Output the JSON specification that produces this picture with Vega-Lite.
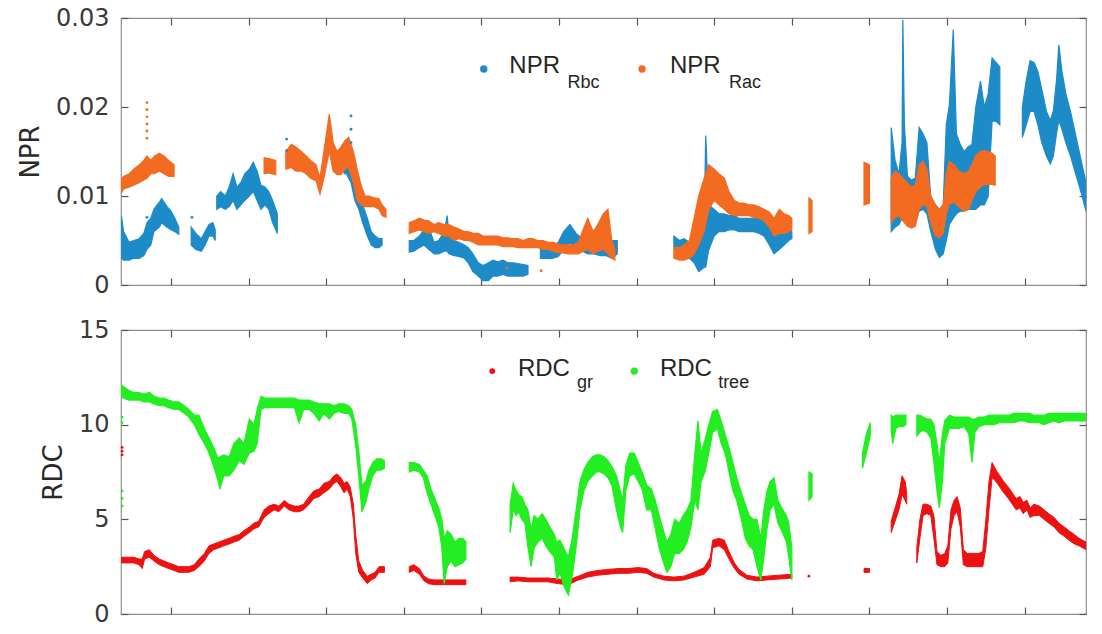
{
  "$schema": "https://vega.github.io/schema/vega-lite/v6.json",
  "background": "white",
  "padding": {"left": 16, "top": 5, "right": 15, "bottom": 5},
  "spacing": 19,
  "config": {
    "view": {"stroke": "#8f8f8f", "strokeWidth": 1.2},
    "axis": {
      "grid": false, "domain": false, "ticks": true, "tickSize": -7, "tickColor": "#555555", "tickWidth": 1.2,
      "labelFont": "DejaVu Sans", "labelFontSize": 24, "labelColor": "#3a3a3a", "labelPadding": 19,
      "titleFont": "DejaVu Sans", "titleFontSize": 26, "titleFontWeight": "normal", "titleColor": "#2a2a2a", "titlePadding": 12
    }
  },
  "datasets": {
    "npr": [
      {"s":"Rbc","g":"b1","t":0.36,"lo":0.0030,"hi":0.0078},
      {"s":"Rbc","g":"b1","t":0.39,"lo":0.0028,"hi":0.0060},
      {"s":"Rbc","g":"b1","t":0.46,"lo":0.0028,"hi":0.0048},
      {"s":"Rbc","g":"b1","t":0.52,"lo":0.0030,"hi":0.0050},
      {"s":"Rbc","g":"b1","t":0.59,"lo":0.0030,"hi":0.0052},
      {"s":"Rbc","g":"b1","t":0.65,"lo":0.0033,"hi":0.0058},
      {"s":"Rbc","g":"b1","t":0.69,"lo":0.0040,"hi":0.0070},
      {"s":"Rbc","g":"b1","t":0.74,"lo":0.0045,"hi":0.0075},
      {"s":"Rbc","g":"b1","t":0.78,"lo":0.0060,"hi":0.0085},
      {"s":"Rbc","g":"b1","t":0.85,"lo":0.0065,"hi":0.0093},
      {"s":"Rbc","g":"b1","t":0.88,"lo":0.0070,"hi":0.0097},
      {"s":"Rbc","g":"b1","t":0.95,"lo":0.0065,"hi":0.0088},
      {"s":"Rbc","g":"b1","t":1.00,"lo":0.0062,"hi":0.0083},
      {"s":"Rbc","g":"b1","t":1.05,"lo":0.0060,"hi":0.0075},
      {"s":"Rbc","g":"b1","t":1.10,"lo":0.0057,"hi":0.0065},
      {"s":"Rbc","g":"b2","t":1.26,"lo":0.0045,"hi":0.0065},
      {"s":"Rbc","g":"b2","t":1.32,"lo":0.0040,"hi":0.0058},
      {"s":"Rbc","g":"b2","t":1.39,"lo":0.0038,"hi":0.0052},
      {"s":"Rbc","g":"b2","t":1.44,"lo":0.0045,"hi":0.0060},
      {"s":"Rbc","g":"b2","t":1.49,"lo":0.0055,"hi":0.0068},
      {"s":"Rbc","g":"b2","t":1.54,"lo":0.0055,"hi":0.0070},
      {"s":"Rbc","g":"b2","t":1.57,"lo":0.0050,"hi":0.0062},
      {"s":"Rbc","g":"b3","t":1.59,"lo":0.0085,"hi":0.0100},
      {"s":"Rbc","g":"b3","t":1.64,"lo":0.0088,"hi":0.0105},
      {"s":"Rbc","g":"b3","t":1.70,"lo":0.0085,"hi":0.0100},
      {"s":"Rbc","g":"b3","t":1.75,"lo":0.0088,"hi":0.0110},
      {"s":"Rbc","g":"b3","t":1.80,"lo":0.0095,"hi":0.0125},
      {"s":"Rbc","g":"b3","t":1.85,"lo":0.0085,"hi":0.0110},
      {"s":"Rbc","g":"b3","t":1.90,"lo":0.0090,"hi":0.0115},
      {"s":"Rbc","g":"b3","t":1.95,"lo":0.0095,"hi":0.0125},
      {"s":"Rbc","g":"b3","t":2.01,"lo":0.0100,"hi":0.0130},
      {"s":"Rbc","g":"b3","t":2.06,"lo":0.0105,"hi":0.0138},
      {"s":"Rbc","g":"b3","t":2.11,"lo":0.0095,"hi":0.0128},
      {"s":"Rbc","g":"b3","t":2.16,"lo":0.0085,"hi":0.0112},
      {"s":"Rbc","g":"b3","t":2.21,"lo":0.0090,"hi":0.0110},
      {"s":"Rbc","g":"b3","t":2.26,"lo":0.0085,"hi":0.0105},
      {"s":"Rbc","g":"b3","t":2.31,"lo":0.0070,"hi":0.0095},
      {"s":"Rbc","g":"b3","t":2.37,"lo":0.0058,"hi":0.0080},
      {"s":"Rbc","g":"b4","t":3.23,"lo":0.0125,"hi":0.0147},
      {"s":"Rbc","g":"b4","t":3.26,"lo":0.0125,"hi":0.0145},
      {"s":"Rbc","g":"b4","t":3.32,"lo":0.0115,"hi":0.0140},
      {"s":"Rbc","g":"b4","t":3.37,"lo":0.0095,"hi":0.0130},
      {"s":"Rbc","g":"b4","t":3.42,"lo":0.0085,"hi":0.0110},
      {"s":"Rbc","g":"b4","t":3.47,"lo":0.0070,"hi":0.0090},
      {"s":"Rbc","g":"b4","t":3.53,"lo":0.0055,"hi":0.0075},
      {"s":"Rbc","g":"b4","t":3.58,"lo":0.0045,"hi":0.0060},
      {"s":"Rbc","g":"b4","t":3.63,"lo":0.0042,"hi":0.0055},
      {"s":"Rbc","g":"b4","t":3.68,"lo":0.0042,"hi":0.0052},
      {"s":"Rbc","g":"b4","t":3.72,"lo":0.0045,"hi":0.0052},
      {"s":"Rbc","g":"b5","t":4.07,"lo":0.0037,"hi":0.0050},
      {"s":"Rbc","g":"b5","t":4.13,"lo":0.0038,"hi":0.0050},
      {"s":"Rbc","g":"b5","t":4.20,"lo":0.0042,"hi":0.0055},
      {"s":"Rbc","g":"b5","t":4.26,"lo":0.0045,"hi":0.0062},
      {"s":"Rbc","g":"b5","t":4.32,"lo":0.0040,"hi":0.0065},
      {"s":"Rbc","g":"b5","t":4.39,"lo":0.0035,"hi":0.0048},
      {"s":"Rbc","g":"b5","t":4.45,"lo":0.0035,"hi":0.0050},
      {"s":"Rbc","g":"b5","t":4.52,"lo":0.0038,"hi":0.0060},
      {"s":"Rbc","g":"b5","t":4.56,"lo":0.0038,"hi":0.0078},
      {"s":"Rbc","g":"b5","t":4.58,"lo":0.0035,"hi":0.0055},
      {"s":"Rbc","g":"b5","t":4.65,"lo":0.0033,"hi":0.0050},
      {"s":"Rbc","g":"b5","t":4.71,"lo":0.0032,"hi":0.0048},
      {"s":"Rbc","g":"b5","t":4.78,"lo":0.0030,"hi":0.0045},
      {"s":"Rbc","g":"b5","t":4.83,"lo":0.0025,"hi":0.0042},
      {"s":"Rbc","g":"b5","t":4.89,"lo":0.0015,"hi":0.0035},
      {"s":"Rbc","g":"b5","t":4.96,"lo":0.0010,"hi":0.0025},
      {"s":"Rbc","g":"b5","t":5.02,"lo":0.0005,"hi":0.0022},
      {"s":"Rbc","g":"b5","t":5.09,"lo":0.0005,"hi":0.0025},
      {"s":"Rbc","g":"b5","t":5.15,"lo":0.0010,"hi":0.0028},
      {"s":"Rbc","g":"b5","t":5.21,"lo":0.0010,"hi":0.0026},
      {"s":"Rbc","g":"b5","t":5.28,"lo":0.0012,"hi":0.0028},
      {"s":"Rbc","g":"b5","t":5.34,"lo":0.0010,"hi":0.0025},
      {"s":"Rbc","g":"b5","t":5.41,"lo":0.0010,"hi":0.0025},
      {"s":"Rbc","g":"b5","t":5.47,"lo":0.0010,"hi":0.0024},
      {"s":"Rbc","g":"b5","t":5.54,"lo":0.0010,"hi":0.0023},
      {"s":"Rbc","g":"b5","t":5.60,"lo":0.0012,"hi":0.0022},
      {"s":"Rbc","g":"b6","t":5.76,"lo":0.0030,"hi":0.0045},
      {"s":"Rbc","g":"b6","t":5.83,"lo":0.0030,"hi":0.0042},
      {"s":"Rbc","g":"b6","t":5.91,"lo":0.0030,"hi":0.0042},
      {"s":"Rbc","g":"b6","t":5.99,"lo":0.0032,"hi":0.0048},
      {"s":"Rbc","g":"b6","t":6.06,"lo":0.0040,"hi":0.0060},
      {"s":"Rbc","g":"b6","t":6.14,"lo":0.0048,"hi":0.0068},
      {"s":"Rbc","g":"b6","t":6.22,"lo":0.0040,"hi":0.0058},
      {"s":"Rbc","g":"b6","t":6.30,"lo":0.0038,"hi":0.0052},
      {"s":"Rbc","g":"b6","t":6.37,"lo":0.0035,"hi":0.0050},
      {"s":"Rbc","g":"b6","t":6.45,"lo":0.0035,"hi":0.0055},
      {"s":"Rbc","g":"b6","t":6.53,"lo":0.0033,"hi":0.0055},
      {"s":"Rbc","g":"b6","t":6.61,"lo":0.0033,"hi":0.0050},
      {"s":"Rbc","g":"b6","t":6.68,"lo":0.0030,"hi":0.0050},
      {"s":"Rbc","g":"b6","t":6.75,"lo":0.0035,"hi":0.0050},
      {"s":"Rbc","g":"b7","t":7.48,"lo":0.0040,"hi":0.0055},
      {"s":"Rbc","g":"b7","t":7.55,"lo":0.0035,"hi":0.0050},
      {"s":"Rbc","g":"b7","t":7.61,"lo":0.0035,"hi":0.0052},
      {"s":"Rbc","g":"b7","t":7.68,"lo":0.0030,"hi":0.0048},
      {"s":"Rbc","g":"b7","t":7.74,"lo":0.0025,"hi":0.0045},
      {"s":"Rbc","g":"b7","t":7.80,"lo":0.0015,"hi":0.0050},
      {"s":"Rbc","g":"b7","t":7.87,"lo":0.0020,"hi":0.0070},
      {"s":"Rbc","g":"b7","t":7.89,"lo":0.0020,"hi":0.0168},
      {"s":"Rbc","g":"b7","t":7.93,"lo":0.0040,"hi":0.0090},
      {"s":"Rbc","g":"b7","t":8.00,"lo":0.0055,"hi":0.0085},
      {"s":"Rbc","g":"b7","t":8.06,"lo":0.0060,"hi":0.0080},
      {"s":"Rbc","g":"b7","t":8.13,"lo":0.0060,"hi":0.0080},
      {"s":"Rbc","g":"b7","t":8.19,"lo":0.0062,"hi":0.0078},
      {"s":"Rbc","g":"b7","t":8.26,"lo":0.0062,"hi":0.0078},
      {"s":"Rbc","g":"b7","t":8.32,"lo":0.0060,"hi":0.0075},
      {"s":"Rbc","g":"b7","t":8.38,"lo":0.0060,"hi":0.0075},
      {"s":"Rbc","g":"b7","t":8.45,"lo":0.0060,"hi":0.0075},
      {"s":"Rbc","g":"b7","t":8.51,"lo":0.0060,"hi":0.0075},
      {"s":"Rbc","g":"b7","t":8.58,"lo":0.0058,"hi":0.0075},
      {"s":"Rbc","g":"b7","t":8.64,"lo":0.0055,"hi":0.0072},
      {"s":"Rbc","g":"b7","t":8.71,"lo":0.0045,"hi":0.0068},
      {"s":"Rbc","g":"b7","t":8.77,"lo":0.0035,"hi":0.0060},
      {"s":"Rbc","g":"b7","t":8.84,"lo":0.0040,"hi":0.0060},
      {"s":"Rbc","g":"b7","t":8.90,"lo":0.0045,"hi":0.0062},
      {"s":"Rbc","g":"b7","t":8.96,"lo":0.0050,"hi":0.0065},
      {"s":"Rbc","g":"b7","t":9.00,"lo":0.0052,"hi":0.0060},
      {"s":"Rbc","g":"b8","t":10.28,"lo":0.0060,"hi":0.0177},
      {"s":"Rbc","g":"b8","t":10.33,"lo":0.0065,"hi":0.0140},
      {"s":"Rbc","g":"b8","t":10.38,"lo":0.0068,"hi":0.0125},
      {"s":"Rbc","g":"b8","t":10.42,"lo":0.0075,"hi":0.0160},
      {"s":"Rbc","g":"b8","t":10.43,"lo":0.0080,"hi":0.0298},
      {"s":"Rbc","g":"b8","t":10.45,"lo":0.0075,"hi":0.0180},
      {"s":"Rbc","g":"b8","t":10.49,"lo":0.0070,"hi":0.0122},
      {"s":"Rbc","g":"b8","t":10.54,"lo":0.0068,"hi":0.0118},
      {"s":"Rbc","g":"b8","t":10.59,"lo":0.0070,"hi":0.0120},
      {"s":"Rbc","g":"b8","t":10.64,"lo":0.0083,"hi":0.0177},
      {"s":"Rbc","g":"b8","t":10.69,"lo":0.0085,"hi":0.0170},
      {"s":"Rbc","g":"b8","t":10.74,"lo":0.0080,"hi":0.0160},
      {"s":"Rbc","g":"b8","t":10.79,"lo":0.0060,"hi":0.0098},
      {"s":"Rbc","g":"b8","t":10.85,"lo":0.0040,"hi":0.0090},
      {"s":"Rbc","g":"b8","t":10.90,"lo":0.0031,"hi":0.0085},
      {"s":"Rbc","g":"b8","t":10.95,"lo":0.0035,"hi":0.0090},
      {"s":"Rbc","g":"b8","t":10.99,"lo":0.0050,"hi":0.0180},
      {"s":"Rbc","g":"b8","t":11.03,"lo":0.0068,"hi":0.0203},
      {"s":"Rbc","g":"b8","t":11.08,"lo":0.0075,"hi":0.0287},
      {"s":"Rbc","g":"b8","t":11.12,"lo":0.0080,"hi":0.0170},
      {"s":"Rbc","g":"b8","t":11.17,"lo":0.0083,"hi":0.0158},
      {"s":"Rbc","g":"b8","t":11.22,"lo":0.0083,"hi":0.0150},
      {"s":"Rbc","g":"b8","t":11.27,"lo":0.0085,"hi":0.0155},
      {"s":"Rbc","g":"b8","t":11.32,"lo":0.0085,"hi":0.0158},
      {"s":"Rbc","g":"b8","t":11.37,"lo":0.0085,"hi":0.0200},
      {"s":"Rbc","g":"b8","t":11.43,"lo":0.0090,"hi":0.0229},
      {"s":"Rbc","g":"b8","t":11.48,"lo":0.0090,"hi":0.0200},
      {"s":"Rbc","g":"b8","t":11.53,"lo":0.0100,"hi":0.0215},
      {"s":"Rbc","g":"b8","t":11.58,"lo":0.0184,"hi":0.0255},
      {"s":"Rbc","g":"b8","t":11.63,"lo":0.0184,"hi":0.0250},
      {"s":"Rbc","g":"b8","t":11.68,"lo":0.0180,"hi":0.0245},
      {"s":"Rbc","g":"b9","t":11.97,"lo":0.0166,"hi":0.0200},
      {"s":"Rbc","g":"b9","t":12.02,"lo":0.0180,"hi":0.0230},
      {"s":"Rbc","g":"b9","t":12.07,"lo":0.0195,"hi":0.0252},
      {"s":"Rbc","g":"b9","t":12.12,"lo":0.0195,"hi":0.0250},
      {"s":"Rbc","g":"b9","t":12.17,"lo":0.0180,"hi":0.0240},
      {"s":"Rbc","g":"b9","t":12.22,"lo":0.0160,"hi":0.0220},
      {"s":"Rbc","g":"b9","t":12.28,"lo":0.0145,"hi":0.0195},
      {"s":"Rbc","g":"b9","t":12.33,"lo":0.0136,"hi":0.0185},
      {"s":"Rbc","g":"b9","t":12.37,"lo":0.0145,"hi":0.0196},
      {"s":"Rbc","g":"b9","t":12.41,"lo":0.0170,"hi":0.0230},
      {"s":"Rbc","g":"b9","t":12.44,"lo":0.0185,"hi":0.0270},
      {"s":"Rbc","g":"b9","t":12.48,"lo":0.0175,"hi":0.0240},
      {"s":"Rbc","g":"b9","t":12.53,"lo":0.0160,"hi":0.0215},
      {"s":"Rbc","g":"b9","t":12.59,"lo":0.0145,"hi":0.0195},
      {"s":"Rbc","g":"b9","t":12.64,"lo":0.0130,"hi":0.0175},
      {"s":"Rbc","g":"b9","t":12.69,"lo":0.0115,"hi":0.0155},
      {"s":"Rbc","g":"b9","t":12.74,"lo":0.0100,"hi":0.0135},
      {"s":"Rbc","g":"b9","t":12.79,"lo":0.0083,"hi":0.0115},
      {"s":"Rac","g":"o1","t":0.36,"lo":0.0103,"hi":0.0120},
      {"s":"Rac","g":"o1","t":0.39,"lo":0.0108,"hi":0.0122},
      {"s":"Rac","g":"o1","t":0.46,"lo":0.0110,"hi":0.0125},
      {"s":"Rac","g":"o1","t":0.52,"lo":0.0112,"hi":0.0130},
      {"s":"Rac","g":"o1","t":0.59,"lo":0.0115,"hi":0.0135},
      {"s":"Rac","g":"o1","t":0.65,"lo":0.0118,"hi":0.0140},
      {"s":"Rac","g":"o1","t":0.69,"lo":0.0120,"hi":0.0145},
      {"s":"Rac","g":"o1","t":0.74,"lo":0.0125,"hi":0.0140},
      {"s":"Rac","g":"o1","t":0.79,"lo":0.0125,"hi":0.0145},
      {"s":"Rac","g":"o1","t":0.85,"lo":0.0128,"hi":0.0148},
      {"s":"Rac","g":"o1","t":0.91,"lo":0.0125,"hi":0.0145},
      {"s":"Rac","g":"o1","t":0.97,"lo":0.0122,"hi":0.0140},
      {"s":"Rac","g":"o1","t":1.04,"lo":0.0122,"hi":0.0135},
      {"s":"Rac","g":"o2","t":2.20,"lo":0.0125,"hi":0.0143},
      {"s":"Rac","g":"o2","t":2.26,"lo":0.0126,"hi":0.0142},
      {"s":"Rac","g":"o2","t":2.35,"lo":0.0124,"hi":0.0140},
      {"s":"Rac","g":"o3","t":2.48,"lo":0.0130,"hi":0.0150},
      {"s":"Rac","g":"o3","t":2.55,"lo":0.0132,"hi":0.0158},
      {"s":"Rac","g":"o3","t":2.61,"lo":0.0128,"hi":0.0155},
      {"s":"Rac","g":"o3","t":2.68,"lo":0.0128,"hi":0.0150},
      {"s":"Rac","g":"o3","t":2.74,"lo":0.0125,"hi":0.0145},
      {"s":"Rac","g":"o3","t":2.80,"lo":0.0120,"hi":0.0140},
      {"s":"Rac","g":"o3","t":2.87,"lo":0.0117,"hi":0.0135},
      {"s":"Rac","g":"o3","t":2.92,"lo":0.0102,"hi":0.0120},
      {"s":"Rac","g":"o3","t":2.97,"lo":0.0120,"hi":0.0150},
      {"s":"Rac","g":"o3","t":3.04,"lo":0.0150,"hi":0.0192},
      {"s":"Rac","g":"o3","t":3.09,"lo":0.0128,"hi":0.0160},
      {"s":"Rac","g":"o3","t":3.14,"lo":0.0124,"hi":0.0150},
      {"s":"Rac","g":"o3","t":3.19,"lo":0.0124,"hi":0.0155},
      {"s":"Rac","g":"o3","t":3.24,"lo":0.0130,"hi":0.0162},
      {"s":"Rac","g":"o3","t":3.29,"lo":0.0132,"hi":0.0166},
      {"s":"Rac","g":"o3","t":3.35,"lo":0.0115,"hi":0.0150},
      {"s":"Rac","g":"o3","t":3.40,"lo":0.0095,"hi":0.0130},
      {"s":"Rac","g":"o3","t":3.45,"lo":0.0090,"hi":0.0112},
      {"s":"Rac","g":"o3","t":3.50,"lo":0.0088,"hi":0.0100},
      {"s":"Rac","g":"o3","t":3.55,"lo":0.0088,"hi":0.0100},
      {"s":"Rac","g":"o3","t":3.62,"lo":0.0088,"hi":0.0098},
      {"s":"Rac","g":"o3","t":3.68,"lo":0.0085,"hi":0.0097},
      {"s":"Rac","g":"o3","t":3.72,"lo":0.0078,"hi":0.0090},
      {"s":"Rac","g":"o3","t":3.77,"lo":0.0076,"hi":0.0085},
      {"s":"Rac","g":"o4","t":4.07,"lo":0.0058,"hi":0.0070},
      {"s":"Rac","g":"o4","t":4.13,"lo":0.0060,"hi":0.0072},
      {"s":"Rac","g":"o4","t":4.20,"lo":0.0062,"hi":0.0075},
      {"s":"Rac","g":"o4","t":4.26,"lo":0.0060,"hi":0.0073},
      {"s":"Rac","g":"o4","t":4.32,"lo":0.0058,"hi":0.0072},
      {"s":"Rac","g":"o4","t":4.39,"lo":0.0060,"hi":0.0068},
      {"s":"Rac","g":"o4","t":4.45,"lo":0.0058,"hi":0.0070},
      {"s":"Rac","g":"o4","t":4.52,"lo":0.0055,"hi":0.0068},
      {"s":"Rac","g":"o4","t":4.58,"lo":0.0055,"hi":0.0068},
      {"s":"Rac","g":"o4","t":4.65,"lo":0.0050,"hi":0.0065},
      {"s":"Rac","g":"o4","t":4.71,"lo":0.0052,"hi":0.0063},
      {"s":"Rac","g":"o4","t":4.78,"lo":0.0050,"hi":0.0060},
      {"s":"Rac","g":"o4","t":4.83,"lo":0.0050,"hi":0.0060},
      {"s":"Rac","g":"o4","t":4.89,"lo":0.0048,"hi":0.0058},
      {"s":"Rac","g":"o4","t":4.96,"lo":0.0045,"hi":0.0058},
      {"s":"Rac","g":"o4","t":5.02,"lo":0.0045,"hi":0.0055},
      {"s":"Rac","g":"o4","t":5.09,"lo":0.0045,"hi":0.0055},
      {"s":"Rac","g":"o4","t":5.15,"lo":0.0045,"hi":0.0055},
      {"s":"Rac","g":"o4","t":5.21,"lo":0.0045,"hi":0.0055},
      {"s":"Rac","g":"o4","t":5.28,"lo":0.0043,"hi":0.0053},
      {"s":"Rac","g":"o4","t":5.34,"lo":0.0043,"hi":0.0053},
      {"s":"Rac","g":"o4","t":5.41,"lo":0.0043,"hi":0.0052},
      {"s":"Rac","g":"o4","t":5.47,"lo":0.0042,"hi":0.0052},
      {"s":"Rac","g":"o4","t":5.54,"lo":0.0042,"hi":0.0050},
      {"s":"Rac","g":"o4","t":5.60,"lo":0.0042,"hi":0.0052},
      {"s":"Rac","g":"o4","t":5.66,"lo":0.0042,"hi":0.0052},
      {"s":"Rac","g":"o4","t":5.73,"lo":0.0042,"hi":0.0050},
      {"s":"Rac","g":"o4","t":5.79,"lo":0.0040,"hi":0.0050},
      {"s":"Rac","g":"o4","t":5.86,"lo":0.0040,"hi":0.0048},
      {"s":"Rac","g":"o4","t":5.92,"lo":0.0038,"hi":0.0048},
      {"s":"Rac","g":"o4","t":5.99,"lo":0.0036,"hi":0.0046},
      {"s":"Rac","g":"o4","t":6.05,"lo":0.0036,"hi":0.0045},
      {"s":"Rac","g":"o4","t":6.12,"lo":0.0035,"hi":0.0045},
      {"s":"Rac","g":"o4","t":6.18,"lo":0.0035,"hi":0.0045},
      {"s":"Rac","g":"o4","t":6.25,"lo":0.0035,"hi":0.0048},
      {"s":"Rac","g":"o4","t":6.31,"lo":0.0038,"hi":0.0062},
      {"s":"Rac","g":"o4","t":6.37,"lo":0.0040,"hi":0.0075},
      {"s":"Rac","g":"o4","t":6.44,"lo":0.0035,"hi":0.0060},
      {"s":"Rac","g":"o4","t":6.50,"lo":0.0038,"hi":0.0068},
      {"s":"Rac","g":"o4","t":6.57,"lo":0.0040,"hi":0.0080},
      {"s":"Rac","g":"o4","t":6.63,"lo":0.0035,"hi":0.0085},
      {"s":"Rac","g":"o4","t":6.68,"lo":0.0030,"hi":0.0050},
      {"s":"Rac","g":"o4","t":6.72,"lo":0.0028,"hi":0.0040},
      {"s":"Rac","g":"o5","t":7.48,"lo":0.0030,"hi":0.0042},
      {"s":"Rac","g":"o5","t":7.55,"lo":0.0028,"hi":0.0042},
      {"s":"Rac","g":"o5","t":7.61,"lo":0.0028,"hi":0.0045},
      {"s":"Rac","g":"o5","t":7.68,"lo":0.0030,"hi":0.0050},
      {"s":"Rac","g":"o5","t":7.74,"lo":0.0035,"hi":0.0075},
      {"s":"Rac","g":"o5","t":7.80,"lo":0.0045,"hi":0.0100},
      {"s":"Rac","g":"o5","t":7.87,"lo":0.0060,"hi":0.0120},
      {"s":"Rac","g":"o5","t":7.93,"lo":0.0085,"hi":0.0135},
      {"s":"Rac","g":"o5","t":8.00,"lo":0.0095,"hi":0.0130},
      {"s":"Rac","g":"o5","t":8.06,"lo":0.0090,"hi":0.0125},
      {"s":"Rac","g":"o5","t":8.13,"lo":0.0085,"hi":0.0120},
      {"s":"Rac","g":"o5","t":8.19,"lo":0.0080,"hi":0.0105},
      {"s":"Rac","g":"o5","t":8.26,"lo":0.0078,"hi":0.0095},
      {"s":"Rac","g":"o5","t":8.32,"lo":0.0078,"hi":0.0092},
      {"s":"Rac","g":"o5","t":8.38,"lo":0.0078,"hi":0.0092},
      {"s":"Rac","g":"o5","t":8.45,"lo":0.0078,"hi":0.0090},
      {"s":"Rac","g":"o5","t":8.51,"lo":0.0076,"hi":0.0090},
      {"s":"Rac","g":"o5","t":8.58,"lo":0.0075,"hi":0.0088},
      {"s":"Rac","g":"o5","t":8.64,"lo":0.0072,"hi":0.0085},
      {"s":"Rac","g":"o5","t":8.71,"lo":0.0065,"hi":0.0082},
      {"s":"Rac","g":"o5","t":8.77,"lo":0.0055,"hi":0.0075},
      {"s":"Rac","g":"o5","t":8.84,"lo":0.0058,"hi":0.0085},
      {"s":"Rac","g":"o5","t":8.90,"lo":0.0058,"hi":0.0080},
      {"s":"Rac","g":"o5","t":8.96,"lo":0.0060,"hi":0.0078},
      {"s":"Rac","g":"o5","t":9.00,"lo":0.0062,"hi":0.0075},
      {"s":"Rac","g":"o6","t":9.22,"lo":0.0058,"hi":0.0098},
      {"s":"Rac","g":"o6","t":9.26,"lo":0.0060,"hi":0.0095},
      {"s":"Rac","g":"o7","t":9.93,"lo":0.0090,"hi":0.0138},
      {"s":"Rac","g":"o7","t":10.00,"lo":0.0092,"hi":0.0135},
      {"s":"Rac","g":"o8","t":10.28,"lo":0.0070,"hi":0.0120},
      {"s":"Rac","g":"o8","t":10.33,"lo":0.0076,"hi":0.0128},
      {"s":"Rac","g":"o8","t":10.38,"lo":0.0078,"hi":0.0125},
      {"s":"Rac","g":"o8","t":10.43,"lo":0.0072,"hi":0.0120},
      {"s":"Rac","g":"o8","t":10.49,"lo":0.0066,"hi":0.0115},
      {"s":"Rac","g":"o8","t":10.54,"lo":0.0064,"hi":0.0110},
      {"s":"Rac","g":"o8","t":10.59,"lo":0.0066,"hi":0.0112},
      {"s":"Rac","g":"o8","t":10.64,"lo":0.0085,"hi":0.0135},
      {"s":"Rac","g":"o8","t":10.69,"lo":0.0091,"hi":0.0139},
      {"s":"Rac","g":"o8","t":10.74,"lo":0.0088,"hi":0.0130},
      {"s":"Rac","g":"o8","t":10.79,"lo":0.0070,"hi":0.0100},
      {"s":"Rac","g":"o8","t":10.85,"lo":0.0055,"hi":0.0090},
      {"s":"Rac","g":"o8","t":10.90,"lo":0.0053,"hi":0.0085},
      {"s":"Rac","g":"o8","t":10.95,"lo":0.0058,"hi":0.0090},
      {"s":"Rac","g":"o8","t":10.99,"lo":0.0080,"hi":0.0125},
      {"s":"Rac","g":"o8","t":11.03,"lo":0.0091,"hi":0.0139},
      {"s":"Rac","g":"o8","t":11.09,"lo":0.0093,"hi":0.0135},
      {"s":"Rac","g":"o8","t":11.15,"lo":0.0088,"hi":0.0128},
      {"s":"Rac","g":"o8","t":11.22,"lo":0.0083,"hi":0.0125},
      {"s":"Rac","g":"o8","t":11.28,"lo":0.0085,"hi":0.0128},
      {"s":"Rac","g":"o8","t":11.32,"lo":0.0095,"hi":0.0135},
      {"s":"Rac","g":"o8","t":11.37,"lo":0.0105,"hi":0.0145},
      {"s":"Rac","g":"o8","t":11.43,"lo":0.0110,"hi":0.0150},
      {"s":"Rac","g":"o8","t":11.48,"lo":0.0113,"hi":0.0151},
      {"s":"Rac","g":"o8","t":11.53,"lo":0.0113,"hi":0.0150},
      {"s":"Rac","g":"o8","t":11.58,"lo":0.0113,"hi":0.0148},
      {"s":"Rac","g":"o8","t":11.62,"lo":0.0112,"hi":0.0145}
    ],
    "npr_pts": [
      {"s":"Rac","t":0.69,"v":0.0165},
      {"s":"Rac","t":0.69,"v":0.0173},
      {"s":"Rac","t":0.69,"v":0.0181},
      {"s":"Rac","t":0.69,"v":0.0189},
      {"s":"Rac","t":0.69,"v":0.0197},
      {"s":"Rac","t":0.69,"v":0.0205},
      {"s":"Rbc","t":0.69,"v":0.0076},
      {"s":"Rbc","t":1.27,"v":0.0076},
      {"s":"Rbc","t":2.49,"v":0.0164},
      {"s":"Rbc","t":2.49,"v":0.0151},
      {"s":"Rbc","t":3.32,"v":0.0190},
      {"s":"Rbc","t":3.32,"v":0.0175},
      {"s":"Rbc","t":3.32,"v":0.0160},
      {"s":"Rac","t":5.33,"v":0.0019},
      {"s":"Rac","t":5.77,"v":0.0016}
    ],
    "rdc": [
      {"s":"gr","g":"r1","t":0.36,"lo":2.7,"hi":3.0},
      {"s":"gr","g":"r1","t":0.39,"lo":2.7,"hi":3.0},
      {"s":"gr","g":"r1","t":0.46,"lo":2.7,"hi":3.0},
      {"s":"gr","g":"r1","t":0.52,"lo":2.7,"hi":3.0},
      {"s":"gr","g":"r1","t":0.59,"lo":2.6,"hi":2.9},
      {"s":"gr","g":"r1","t":0.63,"lo":2.4,"hi":2.9},
      {"s":"gr","g":"r1","t":0.66,"lo":2.9,"hi":3.3},
      {"s":"gr","g":"r1","t":0.72,"lo":3.0,"hi":3.4},
      {"s":"gr","g":"r1","t":0.78,"lo":2.8,"hi":3.1},
      {"s":"gr","g":"r1","t":0.85,"lo":2.6,"hi":2.9},
      {"s":"gr","g":"r1","t":0.91,"lo":2.5,"hi":2.8},
      {"s":"gr","g":"r1","t":0.97,"lo":2.4,"hi":2.7},
      {"s":"gr","g":"r1","t":1.04,"lo":2.3,"hi":2.6},
      {"s":"gr","g":"r1","t":1.10,"lo":2.2,"hi":2.5},
      {"s":"gr","g":"r1","t":1.17,"lo":2.2,"hi":2.5},
      {"s":"gr","g":"r1","t":1.23,"lo":2.2,"hi":2.5},
      {"s":"gr","g":"r1","t":1.30,"lo":2.3,"hi":2.6},
      {"s":"gr","g":"r1","t":1.36,"lo":2.5,"hi":2.9},
      {"s":"gr","g":"r1","t":1.43,"lo":2.8,"hi":3.2},
      {"s":"gr","g":"r1","t":1.49,"lo":3.2,"hi":3.6},
      {"s":"gr","g":"r1","t":1.55,"lo":3.4,"hi":3.7},
      {"s":"gr","g":"r1","t":1.62,"lo":3.5,"hi":3.8},
      {"s":"gr","g":"r1","t":1.68,"lo":3.6,"hi":3.9},
      {"s":"gr","g":"r1","t":1.75,"lo":3.7,"hi":4.0},
      {"s":"gr","g":"r1","t":1.81,"lo":3.8,"hi":4.1},
      {"s":"gr","g":"r1","t":1.88,"lo":3.9,"hi":4.2},
      {"s":"gr","g":"r1","t":1.94,"lo":4.1,"hi":4.4},
      {"s":"gr","g":"r1","t":2.01,"lo":4.3,"hi":4.6},
      {"s":"gr","g":"r1","t":2.07,"lo":4.5,"hi":4.8},
      {"s":"gr","g":"r1","t":2.13,"lo":4.6,"hi":4.9},
      {"s":"gr","g":"r1","t":2.20,"lo":5.1,"hi":5.5},
      {"s":"gr","g":"r1","t":2.26,"lo":5.3,"hi":5.7},
      {"s":"gr","g":"r1","t":2.33,"lo":5.5,"hi":5.8},
      {"s":"gr","g":"r1","t":2.39,"lo":5.4,"hi":5.7},
      {"s":"gr","g":"r1","t":2.46,"lo":5.7,"hi":6.0},
      {"s":"gr","g":"r1","t":2.52,"lo":5.5,"hi":5.8},
      {"s":"gr","g":"r1","t":2.59,"lo":5.4,"hi":5.7},
      {"s":"gr","g":"r1","t":2.65,"lo":5.4,"hi":5.7},
      {"s":"gr","g":"r1","t":2.71,"lo":5.5,"hi":5.8},
      {"s":"gr","g":"r1","t":2.78,"lo":5.8,"hi":6.2},
      {"s":"gr","g":"r1","t":2.84,"lo":6.1,"hi":6.5},
      {"s":"gr","g":"r1","t":2.91,"lo":6.2,"hi":6.6},
      {"s":"gr","g":"r1","t":2.97,"lo":6.4,"hi":6.9},
      {"s":"gr","g":"r1","t":3.04,"lo":6.6,"hi":7.0},
      {"s":"gr","g":"r1","t":3.10,"lo":6.9,"hi":7.3},
      {"s":"gr","g":"r1","t":3.14,"lo":7.0,"hi":7.4},
      {"s":"gr","g":"r1","t":3.19,"lo":6.7,"hi":7.2},
      {"s":"gr","g":"r1","t":3.23,"lo":6.4,"hi":6.9},
      {"s":"gr","g":"r1","t":3.27,"lo":6.6,"hi":7.0},
      {"s":"gr","g":"r1","t":3.31,"lo":6.2,"hi":6.7},
      {"s":"gr","g":"r1","t":3.35,"lo":5.0,"hi":5.8},
      {"s":"gr","g":"r1","t":3.38,"lo":3.2,"hi":4.2},
      {"s":"gr","g":"r1","t":3.42,"lo":2.2,"hi":2.8},
      {"s":"gr","g":"r1","t":3.47,"lo":1.9,"hi":2.3},
      {"s":"gr","g":"r1","t":3.53,"lo":1.6,"hi":2.0},
      {"s":"gr","g":"r1","t":3.58,"lo":1.8,"hi":2.1},
      {"s":"gr","g":"r1","t":3.63,"lo":1.9,"hi":2.2},
      {"s":"gr","g":"r1","t":3.68,"lo":2.2,"hi":2.5},
      {"s":"gr","g":"r1","t":3.75,"lo":2.2,"hi":2.5},
      {"s":"gr","g":"r2","t":4.07,"lo":2.2,"hi":2.5},
      {"s":"gr","g":"r2","t":4.13,"lo":2.3,"hi":2.6},
      {"s":"gr","g":"r2","t":4.20,"lo":2.1,"hi":2.4},
      {"s":"gr","g":"r2","t":4.26,"lo":1.75,"hi":2.0},
      {"s":"gr","g":"r2","t":4.32,"lo":1.6,"hi":1.85},
      {"s":"gr","g":"r2","t":4.39,"lo":1.55,"hi":1.8},
      {"s":"gr","g":"r2","t":4.52,"lo":1.55,"hi":1.8},
      {"s":"gr","g":"r2","t":4.65,"lo":1.55,"hi":1.8},
      {"s":"gr","g":"r2","t":4.80,"lo":1.55,"hi":1.8},
      {"s":"gr","g":"r3","t":5.37,"lo":1.7,"hi":1.95},
      {"s":"gr","g":"r3","t":5.47,"lo":1.75,"hi":1.95},
      {"s":"gr","g":"r3","t":5.60,"lo":1.7,"hi":1.9},
      {"s":"gr","g":"r3","t":5.73,"lo":1.7,"hi":1.9},
      {"s":"gr","g":"r3","t":5.86,"lo":1.7,"hi":1.9},
      {"s":"gr","g":"r3","t":5.99,"lo":1.6,"hi":1.85},
      {"s":"gr","g":"r3","t":6.12,"lo":1.55,"hi":1.8},
      {"s":"gr","g":"r3","t":6.25,"lo":1.8,"hi":2.0},
      {"s":"gr","g":"r3","t":6.37,"lo":1.95,"hi":2.2},
      {"s":"gr","g":"r3","t":6.50,"lo":2.05,"hi":2.3},
      {"s":"gr","g":"r3","t":6.63,"lo":2.1,"hi":2.35},
      {"s":"gr","g":"r3","t":6.76,"lo":2.15,"hi":2.4},
      {"s":"gr","g":"r3","t":6.89,"lo":2.15,"hi":2.4},
      {"s":"gr","g":"r3","t":7.02,"lo":2.2,"hi":2.45},
      {"s":"gr","g":"r3","t":7.13,"lo":2.15,"hi":2.4},
      {"s":"gr","g":"r3","t":7.22,"lo":1.95,"hi":2.15},
      {"s":"gr","g":"r3","t":7.35,"lo":1.8,"hi":2.0},
      {"s":"gr","g":"r3","t":7.48,"lo":1.75,"hi":1.95},
      {"s":"gr","g":"r3","t":7.61,"lo":1.8,"hi":2.0},
      {"s":"gr","g":"r3","t":7.74,"lo":1.95,"hi":2.2},
      {"s":"gr","g":"r3","t":7.87,"lo":2.1,"hi":2.45},
      {"s":"gr","g":"r3","t":7.95,"lo":2.5,"hi":3.0},
      {"s":"gr","g":"r3","t":7.98,"lo":3.5,"hi":3.9},
      {"s":"gr","g":"r3","t":8.06,"lo":3.6,"hi":4.0},
      {"s":"gr","g":"r3","t":8.13,"lo":3.4,"hi":3.9},
      {"s":"gr","g":"r3","t":8.19,"lo":2.9,"hi":3.3},
      {"s":"gr","g":"r3","t":8.26,"lo":2.4,"hi":2.7},
      {"s":"gr","g":"r3","t":8.32,"lo":2.1,"hi":2.35},
      {"s":"gr","g":"r3","t":8.42,"lo":1.85,"hi":2.05},
      {"s":"gr","g":"r3","t":8.55,"lo":1.75,"hi":1.95},
      {"s":"gr","g":"r3","t":8.68,"lo":1.8,"hi":2.0},
      {"s":"gr","g":"r3","t":8.84,"lo":1.85,"hi":2.05},
      {"s":"gr","g":"r3","t":9.00,"lo":1.9,"hi":2.1},
      {"s":"gr","g":"r4","t":9.93,"lo":2.2,"hi":2.4},
      {"s":"gr","g":"r4","t":10.00,"lo":2.2,"hi":2.4},
      {"s":"gr","g":"r5","t":10.28,"lo":4.3,"hi":4.9},
      {"s":"gr","g":"r5","t":10.33,"lo":4.9,"hi":5.6},
      {"s":"gr","g":"r5","t":10.38,"lo":5.5,"hi":6.3},
      {"s":"gr","g":"r5","t":10.42,"lo":6.3,"hi":7.3},
      {"s":"gr","g":"r5","t":10.46,"lo":6.0,"hi":7.0},
      {"s":"gr","g":"r5","t":10.48,"lo":5.8,"hi":6.4},
      {"s":"gr","g":"r6","t":10.61,"lo":2.7,"hi":3.5},
      {"s":"gr","g":"r6","t":10.65,"lo":4.0,"hi":5.0},
      {"s":"gr","g":"r6","t":10.69,"lo":5.2,"hi":5.8},
      {"s":"gr","g":"r6","t":10.74,"lo":5.3,"hi":5.8},
      {"s":"gr","g":"r6","t":10.79,"lo":5.2,"hi":5.7},
      {"s":"gr","g":"r6","t":10.83,"lo":4.0,"hi":5.2},
      {"s":"gr","g":"r6","t":10.87,"lo":2.6,"hi":3.3},
      {"s":"gr","g":"r6","t":10.92,"lo":2.5,"hi":3.1},
      {"s":"gr","g":"r6","t":10.97,"lo":2.5,"hi":3.2},
      {"s":"gr","g":"r6","t":11.01,"lo":2.7,"hi":3.6},
      {"s":"gr","g":"r6","t":11.05,"lo":4.5,"hi":5.5},
      {"s":"gr","g":"r6","t":11.09,"lo":5.2,"hi":6.0},
      {"s":"gr","g":"r6","t":11.13,"lo":5.4,"hi":6.2},
      {"s":"gr","g":"r6","t":11.17,"lo":4.6,"hi":5.6},
      {"s":"gr","g":"r6","t":11.21,"lo":2.6,"hi":3.4},
      {"s":"gr","g":"r6","t":11.26,"lo":2.5,"hi":3.2},
      {"s":"gr","g":"r6","t":11.31,"lo":2.5,"hi":3.2},
      {"s":"gr","g":"r6","t":11.36,"lo":2.5,"hi":3.2},
      {"s":"gr","g":"r6","t":11.41,"lo":2.5,"hi":3.2},
      {"s":"gr","g":"r6","t":11.46,"lo":2.5,"hi":3.3},
      {"s":"gr","g":"r6","t":11.50,"lo":3.5,"hi":5.0},
      {"s":"gr","g":"r6","t":11.54,"lo":5.5,"hi":7.0},
      {"s":"gr","g":"r6","t":11.58,"lo":7.2,"hi":8.0},
      {"s":"gr","g":"r6","t":11.63,"lo":7.0,"hi":7.6},
      {"s":"gr","g":"r6","t":11.68,"lo":6.7,"hi":7.3},
      {"s":"gr","g":"r6","t":11.73,"lo":6.4,"hi":7.0},
      {"s":"gr","g":"r6","t":11.79,"lo":6.1,"hi":6.7},
      {"s":"gr","g":"r6","t":11.84,"lo":5.8,"hi":6.4},
      {"s":"gr","g":"r6","t":11.89,"lo":5.5,"hi":6.1},
      {"s":"gr","g":"r6","t":11.94,"lo":5.6,"hi":6.2},
      {"s":"gr","g":"r6","t":11.98,"lo":5.3,"hi":5.9},
      {"s":"gr","g":"r6","t":12.03,"lo":5.5,"hi":6.0},
      {"s":"gr","g":"r6","t":12.07,"lo":5.1,"hi":5.6},
      {"s":"gr","g":"r6","t":12.12,"lo":5.2,"hi":5.8},
      {"s":"gr","g":"r6","t":12.19,"lo":5.2,"hi":5.7},
      {"s":"gr","g":"r6","t":12.25,"lo":5.0,"hi":5.5},
      {"s":"gr","g":"r6","t":12.31,"lo":4.8,"hi":5.3},
      {"s":"gr","g":"r6","t":12.38,"lo":4.6,"hi":5.1},
      {"s":"gr","g":"r6","t":12.44,"lo":4.3,"hi":4.8},
      {"s":"gr","g":"r6","t":12.51,"lo":4.1,"hi":4.6},
      {"s":"gr","g":"r6","t":12.57,"lo":3.9,"hi":4.4},
      {"s":"gr","g":"r6","t":12.64,"lo":3.7,"hi":4.2},
      {"s":"gr","g":"r6","t":12.70,"lo":3.6,"hi":4.0},
      {"s":"gr","g":"r6","t":12.79,"lo":3.4,"hi":3.8},
      {"s":"tree","g":"e1","t":0.36,"lo":11.5,"hi":12.1},
      {"s":"tree","g":"e1","t":0.39,"lo":11.4,"hi":12.0},
      {"s":"tree","g":"e1","t":0.46,"lo":11.3,"hi":11.8},
      {"s":"tree","g":"e1","t":0.52,"lo":11.3,"hi":11.7},
      {"s":"tree","g":"e1","t":0.59,"lo":11.3,"hi":11.7},
      {"s":"tree","g":"e1","t":0.65,"lo":11.2,"hi":11.6},
      {"s":"tree","g":"e1","t":0.72,"lo":11.2,"hi":11.7},
      {"s":"tree","g":"e1","t":0.78,"lo":11.1,"hi":11.5},
      {"s":"tree","g":"e1","t":0.85,"lo":11.0,"hi":11.4},
      {"s":"tree","g":"e1","t":0.91,"lo":11.0,"hi":11.4},
      {"s":"tree","g":"e1","t":0.97,"lo":10.9,"hi":11.3},
      {"s":"tree","g":"e1","t":1.04,"lo":10.8,"hi":11.2},
      {"s":"tree","g":"e1","t":1.10,"lo":10.8,"hi":11.2},
      {"s":"tree","g":"e1","t":1.17,"lo":10.6,"hi":11.0},
      {"s":"tree","g":"e1","t":1.23,"lo":10.4,"hi":10.8},
      {"s":"tree","g":"e1","t":1.30,"lo":10.0,"hi":10.5},
      {"s":"tree","g":"e1","t":1.36,"lo":9.5,"hi":10.5},
      {"s":"tree","g":"e1","t":1.43,"lo":9.0,"hi":9.8},
      {"s":"tree","g":"e1","t":1.49,"lo":8.5,"hi":9.3},
      {"s":"tree","g":"e1","t":1.55,"lo":7.8,"hi":8.8},
      {"s":"tree","g":"e1","t":1.61,"lo":7.0,"hi":8.2},
      {"s":"tree","g":"e1","t":1.63,"lo":6.6,"hi":8.3},
      {"s":"tree","g":"e1","t":1.68,"lo":7.3,"hi":8.4},
      {"s":"tree","g":"e1","t":1.75,"lo":7.3,"hi":8.3},
      {"s":"tree","g":"e1","t":1.81,"lo":7.6,"hi":9.0},
      {"s":"tree","g":"e1","t":1.88,"lo":8.1,"hi":9.3},
      {"s":"tree","g":"e1","t":1.94,"lo":7.9,"hi":9.0},
      {"s":"tree","g":"e1","t":2.01,"lo":8.5,"hi":10.3},
      {"s":"tree","g":"e1","t":2.07,"lo":8.6,"hi":10.0},
      {"s":"tree","g":"e1","t":2.11,"lo":9.0,"hi":10.8},
      {"s":"tree","g":"e1","t":2.16,"lo":10.8,"hi":11.5},
      {"s":"tree","g":"e1","t":2.21,"lo":10.9,"hi":11.4},
      {"s":"tree","g":"e1","t":2.26,"lo":10.9,"hi":11.4},
      {"s":"tree","g":"e1","t":2.33,"lo":10.9,"hi":11.4},
      {"s":"tree","g":"e1","t":2.39,"lo":10.9,"hi":11.4},
      {"s":"tree","g":"e1","t":2.46,"lo":10.9,"hi":11.4},
      {"s":"tree","g":"e1","t":2.52,"lo":10.9,"hi":11.4},
      {"s":"tree","g":"e1","t":2.59,"lo":10.9,"hi":11.4},
      {"s":"tree","g":"e1","t":2.65,"lo":10.1,"hi":11.3},
      {"s":"tree","g":"e1","t":2.71,"lo":10.8,"hi":11.3},
      {"s":"tree","g":"e1","t":2.78,"lo":10.8,"hi":11.3},
      {"s":"tree","g":"e1","t":2.84,"lo":10.6,"hi":11.2},
      {"s":"tree","g":"e1","t":2.91,"lo":10.2,"hi":11.1},
      {"s":"tree","g":"e1","t":2.97,"lo":10.6,"hi":11.1},
      {"s":"tree","g":"e1","t":3.04,"lo":10.3,"hi":11.1},
      {"s":"tree","g":"e1","t":3.10,"lo":10.6,"hi":11.0},
      {"s":"tree","g":"e1","t":3.16,"lo":10.7,"hi":11.1},
      {"s":"tree","g":"e1","t":3.23,"lo":10.6,"hi":11.1},
      {"s":"tree","g":"e1","t":3.29,"lo":10.6,"hi":11.0},
      {"s":"tree","g":"e1","t":3.33,"lo":10.3,"hi":10.8},
      {"s":"tree","g":"e1","t":3.38,"lo":8.9,"hi":10.0},
      {"s":"tree","g":"e1","t":3.42,"lo":7.3,"hi":8.6},
      {"s":"tree","g":"e1","t":3.46,"lo":5.4,"hi":6.8},
      {"s":"tree","g":"e1","t":3.51,"lo":5.9,"hi":7.0},
      {"s":"tree","g":"e1","t":3.55,"lo":6.6,"hi":7.6},
      {"s":"tree","g":"e1","t":3.60,"lo":7.3,"hi":8.0},
      {"s":"tree","g":"e1","t":3.65,"lo":7.6,"hi":8.2},
      {"s":"tree","g":"e1","t":3.71,"lo":7.6,"hi":8.2},
      {"s":"tree","g":"e1","t":3.75,"lo":7.7,"hi":8.1},
      {"s":"tree","g":"e2","t":4.07,"lo":7.5,"hi":8.0},
      {"s":"tree","g":"e2","t":4.13,"lo":7.6,"hi":8.0},
      {"s":"tree","g":"e2","t":4.20,"lo":7.5,"hi":7.9},
      {"s":"tree","g":"e2","t":4.25,"lo":7.2,"hi":7.6},
      {"s":"tree","g":"e2","t":4.30,"lo":6.4,"hi":7.3},
      {"s":"tree","g":"e2","t":4.35,"lo":5.8,"hi":6.6},
      {"s":"tree","g":"e2","t":4.40,"lo":5.2,"hi":6.1},
      {"s":"tree","g":"e2","t":4.45,"lo":4.6,"hi":5.6},
      {"s":"tree","g":"e2","t":4.49,"lo":3.5,"hi":5.0},
      {"s":"tree","g":"e2","t":4.52,"lo":1.6,"hi":4.0},
      {"s":"tree","g":"e2","t":4.56,"lo":2.5,"hi":4.4},
      {"s":"tree","g":"e2","t":4.61,"lo":2.8,"hi":4.2},
      {"s":"tree","g":"e2","t":4.66,"lo":2.5,"hi":3.8},
      {"s":"tree","g":"e2","t":4.71,"lo":2.6,"hi":4.0},
      {"s":"tree","g":"e2","t":4.76,"lo":2.7,"hi":4.0},
      {"s":"tree","g":"e2","t":4.80,"lo":2.9,"hi":3.8},
      {"s":"tree","g":"e3","t":5.37,"lo":4.3,"hi":5.8},
      {"s":"tree","g":"e3","t":5.41,"lo":5.5,"hi":6.9},
      {"s":"tree","g":"e3","t":5.45,"lo":5.2,"hi":6.5},
      {"s":"tree","g":"e3","t":5.48,"lo":5.4,"hi":6.3},
      {"s":"tree","g":"e3","t":5.52,"lo":5.0,"hi":6.2},
      {"s":"tree","g":"e3","t":5.56,"lo":4.8,"hi":5.8},
      {"s":"tree","g":"e3","t":5.60,"lo":3.5,"hi":5.5},
      {"s":"tree","g":"e3","t":5.64,"lo":2.5,"hi":4.5},
      {"s":"tree","g":"e3","t":5.68,"lo":3.5,"hi":5.2},
      {"s":"tree","g":"e3","t":5.73,"lo":3.8,"hi":5.0},
      {"s":"tree","g":"e3","t":5.78,"lo":4.0,"hi":5.3},
      {"s":"tree","g":"e3","t":5.83,"lo":3.6,"hi":5.0},
      {"s":"tree","g":"e3","t":5.88,"lo":3.3,"hi":4.6},
      {"s":"tree","g":"e3","t":5.94,"lo":3.0,"hi":4.2},
      {"s":"tree","g":"e3","t":5.97,"lo":1.8,"hi":3.8},
      {"s":"tree","g":"e3","t":6.01,"lo":2.2,"hi":3.9},
      {"s":"tree","g":"e3","t":6.06,"lo":1.5,"hi":3.5},
      {"s":"tree","g":"e3","t":6.12,"lo":1.0,"hi":3.0},
      {"s":"tree","g":"e3","t":6.17,"lo":2.0,"hi":4.0},
      {"s":"tree","g":"e3","t":6.22,"lo":3.5,"hi":5.5},
      {"s":"tree","g":"e3","t":6.27,"lo":5.5,"hi":7.0},
      {"s":"tree","g":"e3","t":6.32,"lo":6.5,"hi":7.6},
      {"s":"tree","g":"e3","t":6.37,"lo":7.0,"hi":8.0},
      {"s":"tree","g":"e3","t":6.43,"lo":7.3,"hi":8.3},
      {"s":"tree","g":"e3","t":6.48,"lo":7.5,"hi":8.4},
      {"s":"tree","g":"e3","t":6.53,"lo":7.5,"hi":8.4},
      {"s":"tree","g":"e3","t":6.58,"lo":7.4,"hi":8.3},
      {"s":"tree","g":"e3","t":6.63,"lo":7.2,"hi":8.1},
      {"s":"tree","g":"e3","t":6.68,"lo":6.8,"hi":7.8},
      {"s":"tree","g":"e3","t":6.74,"lo":5.5,"hi":7.3},
      {"s":"tree","g":"e3","t":6.79,"lo":4.6,"hi":6.5},
      {"s":"tree","g":"e3","t":6.82,"lo":4.3,"hi":6.0},
      {"s":"tree","g":"e3","t":6.86,"lo":6.5,"hi":7.8},
      {"s":"tree","g":"e3","t":6.91,"lo":7.3,"hi":8.5},
      {"s":"tree","g":"e3","t":6.97,"lo":7.4,"hi":8.5},
      {"s":"tree","g":"e3","t":7.02,"lo":7.0,"hi":8.0},
      {"s":"tree","g":"e3","t":7.07,"lo":6.6,"hi":7.5},
      {"s":"tree","g":"e3","t":7.13,"lo":5.5,"hi":6.8},
      {"s":"tree","g":"e3","t":7.19,"lo":5.5,"hi":6.6},
      {"s":"tree","g":"e3","t":7.24,"lo":4.5,"hi":6.0},
      {"s":"tree","g":"e3","t":7.29,"lo":3.5,"hi":5.2},
      {"s":"tree","g":"e3","t":7.34,"lo":2.8,"hi":4.5},
      {"s":"tree","g":"e3","t":7.39,"lo":2.2,"hi":3.8},
      {"s":"tree","g":"e3","t":7.44,"lo":2.5,"hi":4.2},
      {"s":"tree","g":"e3","t":7.49,"lo":3.2,"hi":5.0},
      {"s":"tree","g":"e3","t":7.55,"lo":3.2,"hi":4.8},
      {"s":"tree","g":"e3","t":7.60,"lo":3.4,"hi":5.2},
      {"s":"tree","g":"e3","t":7.65,"lo":3.8,"hi":5.5},
      {"s":"tree","g":"e3","t":7.70,"lo":4.6,"hi":6.0},
      {"s":"tree","g":"e3","t":7.75,"lo":6.0,"hi":8.5},
      {"s":"tree","g":"e3","t":7.79,"lo":5.5,"hi":10.2},
      {"s":"tree","g":"e3","t":7.83,"lo":7.0,"hi":8.5},
      {"s":"tree","g":"e3","t":7.88,"lo":7.5,"hi":9.2},
      {"s":"tree","g":"e3","t":7.93,"lo":8.5,"hi":10.0},
      {"s":"tree","g":"e3","t":7.98,"lo":9.6,"hi":10.7},
      {"s":"tree","g":"e3","t":8.04,"lo":9.8,"hi":10.8},
      {"s":"tree","g":"e3","t":8.09,"lo":9.0,"hi":10.2},
      {"s":"tree","g":"e3","t":8.14,"lo":8.5,"hi":9.5},
      {"s":"tree","g":"e3","t":8.19,"lo":7.5,"hi":8.8},
      {"s":"tree","g":"e3","t":8.24,"lo":6.5,"hi":8.0},
      {"s":"tree","g":"e3","t":8.29,"lo":6.0,"hi":7.2},
      {"s":"tree","g":"e3","t":8.35,"lo":5.0,"hi":6.4},
      {"s":"tree","g":"e3","t":8.40,"lo":4.0,"hi":5.8},
      {"s":"tree","g":"e3","t":8.45,"lo":3.6,"hi":5.2},
      {"s":"tree","g":"e3","t":8.50,"lo":3.4,"hi":5.0},
      {"s":"tree","g":"e3","t":8.55,"lo":2.5,"hi":5.0},
      {"s":"tree","g":"e3","t":8.60,"lo":1.8,"hi":4.0},
      {"s":"tree","g":"e3","t":8.64,"lo":3.0,"hi":5.5},
      {"s":"tree","g":"e3","t":8.68,"lo":4.5,"hi":6.5},
      {"s":"tree","g":"e3","t":8.72,"lo":5.5,"hi":7.0},
      {"s":"tree","g":"e3","t":8.77,"lo":5.8,"hi":7.2},
      {"s":"tree","g":"e3","t":8.82,"lo":4.8,"hi":6.0},
      {"s":"tree","g":"e3","t":8.87,"lo":4.4,"hi":5.6},
      {"s":"tree","g":"e3","t":8.93,"lo":3.8,"hi":5.2},
      {"s":"tree","g":"e3","t":8.96,"lo":3.0,"hi":4.8},
      {"s":"tree","g":"e3","t":9.00,"lo":1.8,"hi":3.5},
      {"s":"tree","g":"e4","t":9.22,"lo":6.0,"hi":7.5},
      {"s":"tree","g":"e4","t":9.26,"lo":6.2,"hi":7.4},
      {"s":"tree","g":"e5","t":9.91,"lo":7.7,"hi":8.5},
      {"s":"tree","g":"e5","t":9.96,"lo":8.5,"hi":9.5},
      {"s":"tree","g":"e5","t":10.01,"lo":9.4,"hi":10.1},
      {"s":"tree","g":"e6","t":10.28,"lo":9.7,"hi":10.5},
      {"s":"tree","g":"e6","t":10.30,"lo":9.0,"hi":10.4},
      {"s":"tree","g":"e6","t":10.34,"lo":9.8,"hi":10.5},
      {"s":"tree","g":"e6","t":10.38,"lo":9.9,"hi":10.5},
      {"s":"tree","g":"e6","t":10.43,"lo":9.9,"hi":10.5},
      {"s":"tree","g":"e6","t":10.47,"lo":10.0,"hi":10.5},
      {"s":"tree","g":"e7","t":10.61,"lo":9.4,"hi":10.5},
      {"s":"tree","g":"e7","t":10.65,"lo":9.6,"hi":10.5},
      {"s":"tree","g":"e7","t":10.69,"lo":9.7,"hi":10.4},
      {"s":"tree","g":"e7","t":10.74,"lo":9.6,"hi":10.3},
      {"s":"tree","g":"e7","t":10.79,"lo":9.3,"hi":10.3},
      {"s":"tree","g":"e7","t":10.83,"lo":8.0,"hi":10.0},
      {"s":"tree","g":"e7","t":10.87,"lo":6.5,"hi":9.0},
      {"s":"tree","g":"e7","t":10.90,"lo":5.6,"hi":8.0},
      {"s":"tree","g":"e7","t":10.94,"lo":7.0,"hi":9.5},
      {"s":"tree","g":"e7","t":10.97,"lo":9.0,"hi":10.2},
      {"s":"tree","g":"e7","t":11.03,"lo":9.8,"hi":10.5},
      {"s":"tree","g":"e7","t":11.09,"lo":9.8,"hi":10.4},
      {"s":"tree","g":"e7","t":11.15,"lo":9.8,"hi":10.4},
      {"s":"tree","g":"e7","t":11.22,"lo":9.9,"hi":10.4},
      {"s":"tree","g":"e7","t":11.28,"lo":9.5,"hi":10.4},
      {"s":"tree","g":"e7","t":11.32,"lo":8.0,"hi":10.3},
      {"s":"tree","g":"e7","t":11.36,"lo":9.6,"hi":10.3},
      {"s":"tree","g":"e7","t":11.41,"lo":9.9,"hi":10.4},
      {"s":"tree","g":"e7","t":11.48,"lo":10.0,"hi":10.4},
      {"s":"tree","g":"e7","t":11.54,"lo":10.0,"hi":10.5},
      {"s":"tree","g":"e7","t":11.61,"lo":10.0,"hi":10.5},
      {"s":"tree","g":"e7","t":11.67,"lo":10.1,"hi":10.5},
      {"s":"tree","g":"e7","t":11.73,"lo":10.1,"hi":10.5},
      {"s":"tree","g":"e7","t":11.80,"lo":10.1,"hi":10.5},
      {"s":"tree","g":"e7","t":11.86,"lo":10.1,"hi":10.6},
      {"s":"tree","g":"e7","t":11.93,"lo":10.2,"hi":10.6},
      {"s":"tree","g":"e7","t":11.99,"lo":10.2,"hi":10.6},
      {"s":"tree","g":"e7","t":12.06,"lo":10.1,"hi":10.6},
      {"s":"tree","g":"e7","t":12.12,"lo":10.1,"hi":10.5},
      {"s":"tree","g":"e7","t":12.19,"lo":10.1,"hi":10.5},
      {"s":"tree","g":"e7","t":12.25,"lo":10.0,"hi":10.5},
      {"s":"tree","g":"e7","t":12.31,"lo":10.1,"hi":10.6},
      {"s":"tree","g":"e7","t":12.38,"lo":10.2,"hi":10.6},
      {"s":"tree","g":"e7","t":12.44,"lo":10.1,"hi":10.6},
      {"s":"tree","g":"e7","t":12.51,"lo":10.2,"hi":10.6},
      {"s":"tree","g":"e7","t":12.57,"lo":10.2,"hi":10.6},
      {"s":"tree","g":"e7","t":12.64,"lo":10.2,"hi":10.6},
      {"s":"tree","g":"e7","t":12.70,"lo":10.2,"hi":10.6},
      {"s":"tree","g":"e7","t":12.79,"lo":10.2,"hi":10.6}
    ],
    "rdc_pts": [
      {"s":"tree","t":0.37,"v":10.4},
      {"s":"tree","t":0.37,"v":10.1},
      {"s":"tree","t":0.37,"v":6.5},
      {"s":"tree","t":0.37,"v":6.1},
      {"s":"tree","t":0.37,"v":5.7},
      {"s":"gr","t":0.37,"v":8.8},
      {"s":"gr","t":0.37,"v":8.6},
      {"s":"gr","t":0.37,"v":8.4},
      {"s":"gr","t":9.22,"v":2.0}
    ]
  },
  "vconcat": [
    {
      "width": 965,
      "height": 267,
      "resolve": {"axis": {"x": "independent", "y": "independent"}},
      "layer": [
        {
          "data": {"name": "npr"},
          "transform": [{"filter": "datum.s === 'Rbc'"}],
          "mark": {"type": "area", "color": "#1E8BC9", "stroke": "#1E8BC9", "strokeWidth": 1.2, "clip": true},
          "encoding": {
            "x": {"field": "t", "type": "quantitative", "scale": {"domain": [0.356, 12.79], "nice": false, "zero": false},
                  "axis": {"orient": "bottom", "values": [1,2,3,4,5,6,7,8,9,10,11,12], "labels": false, "title": null}},
            "y": {"field": "lo", "type": "quantitative", "scale": {"domain": [0, 0.03], "nice": false},
                  "axis": {"orient": "left", "values": [0, 0.01, 0.02, 0.03], "format": "~g", "title": "NPR"}},
            "y2": {"field": "hi"},
            "detail": {"field": "g"}
          }
        },
        {
          "data": {"name": "npr"},
          "transform": [{"filter": "datum.s === 'Rac'"}],
          "mark": {"type": "area", "color": "#F26B21", "stroke": "#F26B21", "strokeWidth": 1.2, "clip": true},
          "encoding": {
            "x": {"field": "t", "type": "quantitative",
                  "axis": {"orient": "top", "values": [1,2,3,4,5,6,7,8,9,10,11,12], "labels": false, "title": null}},
            "y": {"field": "lo", "type": "quantitative",
                  "axis": {"orient": "right", "values": [0, 0.01, 0.02, 0.03], "labels": false, "title": null}},
            "y2": {"field": "hi"},
            "detail": {"field": "g"}
          }
        },
        {
          "data": {"name": "npr_pts"},
          "mark": {"type": "circle", "size": 8, "opacity": 1},
          "encoding": {
            "x": {"field": "t", "type": "quantitative", "axis": null},
            "y": {"field": "v", "type": "quantitative", "axis": null},
            "color": {"field": "s", "type": "nominal", "scale": {"domain": ["Rbc", "Rac", "gr", "tree"], "range": ["#1E8BC9", "#F26B21", "#EE1111", "#22EE22"]}, "legend": null}
          }
        },
        {
          "data": {"values": [{}]},
          "mark": {"type": "circle", "size": 55, "color": "#1E8BC9", "opacity": 1},
          "encoding": {"x": {"datum": 5.03, "type": "quantitative", "axis": null}, "y": {"datum": 0.02427, "type": "quantitative", "axis": null}}
        },
        {
          "data": {"values": [{}]},
          "mark": {"type": "circle", "size": 55, "color": "#F26B21", "opacity": 1},
          "encoding": {"x": {"datum": 7.07, "type": "quantitative", "axis": null}, "y": {"datum": 0.02427, "type": "quantitative", "axis": null}}
        },
        {
          "data": {"values": [{}]},
          "mark": {"type": "text", "text": "NPR", "align": "left", "baseline": "alphabetic", "font": "Liberation Sans", "fontSize": 24, "color": "#262626"},
          "encoding": {"x": {"datum": 5.36, "type": "quantitative", "axis": null}, "y": {"datum": 0.02382, "type": "quantitative", "axis": null}}
        },
        {
          "data": {"values": [{}]},
          "mark": {"type": "text", "text": "Rbc", "align": "left", "baseline": "alphabetic", "font": "Liberation Sans", "fontSize": 18, "color": "#262626"},
          "encoding": {"x": {"datum": 6.11, "type": "quantitative", "axis": null}, "y": {"datum": 0.02213, "type": "quantitative", "axis": null}}
        },
        {
          "data": {"values": [{}]},
          "mark": {"type": "text", "text": "NPR", "align": "left", "baseline": "alphabetic", "font": "Liberation Sans", "fontSize": 24, "color": "#262626"},
          "encoding": {"x": {"datum": 7.43, "type": "quantitative", "axis": null}, "y": {"datum": 0.02382, "type": "quantitative", "axis": null}}
        },
        {
          "data": {"values": [{}]},
          "mark": {"type": "text", "text": "Rac", "align": "left", "baseline": "alphabetic", "font": "Liberation Sans", "fontSize": 18, "color": "#262626"},
          "encoding": {"x": {"datum": 8.19, "type": "quantitative", "axis": null}, "y": {"datum": 0.02213, "type": "quantitative", "axis": null}}
        }
      ]
    },
    {
      "width": 965,
      "height": 284,
      "resolve": {"axis": {"x": "independent", "y": "independent"}},
      "layer": [
        {
          "data": {"name": "rdc"},
          "transform": [{"filter": "datum.s === 'gr'"}],
          "mark": {"type": "area", "color": "#EE1111", "stroke": "#EE1111", "strokeWidth": 1, "clip": true},
          "encoding": {
            "x": {"field": "t", "type": "quantitative", "scale": {"domain": [0.356, 12.79], "nice": false, "zero": false},
                  "axis": {"orient": "bottom", "values": [1,2,3,4,5,6,7,8,9,10,11,12], "labels": false, "title": null}},
            "y": {"field": "lo", "type": "quantitative", "scale": {"domain": [0, 15], "nice": false},
                  "axis": {"orient": "left", "values": [0, 5, 10, 15], "title": "RDC"}},
            "y2": {"field": "hi"},
            "detail": {"field": "g"}
          }
        },
        {
          "data": {"name": "rdc"},
          "transform": [{"filter": "datum.s === 'tree'"}],
          "mark": {"type": "area", "color": "#22EE22", "stroke": "#22EE22", "strokeWidth": 1.2, "clip": true},
          "encoding": {
            "x": {"field": "t", "type": "quantitative",
                  "axis": {"orient": "top", "values": [1,2,3,4,5,6,7,8,9,10,11,12], "labels": false, "title": null}},
            "y": {"field": "lo", "type": "quantitative",
                  "axis": {"orient": "right", "values": [0, 5, 10, 15], "labels": false, "title": null}},
            "y2": {"field": "hi"},
            "detail": {"field": "g"}
          }
        },
        {
          "data": {"name": "rdc_pts"},
          "mark": {"type": "circle", "size": 8, "opacity": 1},
          "encoding": {
            "x": {"field": "t", "type": "quantitative", "axis": null},
            "y": {"field": "v", "type": "quantitative", "axis": null},
            "color": {"field": "s", "type": "nominal", "scale": {"domain": ["Rbc", "Rac", "gr", "tree"], "range": ["#1E8BC9", "#F26B21", "#EE1111", "#22EE22"]}, "legend": null}
          }
        },
        {
          "data": {"values": [{}]},
          "mark": {"type": "circle", "size": 35, "color": "#EE1111", "opacity": 1},
          "encoding": {"x": {"datum": 5.14, "type": "quantitative", "axis": null}, "y": {"datum": 12.83, "type": "quantitative", "axis": null}}
        },
        {
          "data": {"values": [{}]},
          "mark": {"type": "circle", "size": 55, "color": "#22EE22", "opacity": 1},
          "encoding": {"x": {"datum": 6.97, "type": "quantitative", "axis": null}, "y": {"datum": 12.83, "type": "quantitative", "axis": null}}
        },
        {
          "data": {"values": [{}]},
          "mark": {"type": "text", "text": "RDC", "align": "left", "baseline": "alphabetic", "font": "Liberation Sans", "fontSize": 24, "color": "#262626"},
          "encoding": {"x": {"datum": 5.47, "type": "quantitative", "axis": null}, "y": {"datum": 12.57, "type": "quantitative", "axis": null}}
        },
        {
          "data": {"values": [{}]},
          "mark": {"type": "text", "text": "gr", "align": "left", "baseline": "alphabetic", "font": "Liberation Sans", "fontSize": 18, "color": "#262626"},
          "encoding": {"x": {"datum": 6.23, "type": "quantitative", "axis": null}, "y": {"datum": 11.94, "type": "quantitative", "axis": null}}
        },
        {
          "data": {"values": [{}]},
          "mark": {"type": "text", "text": "RDC", "align": "left", "baseline": "alphabetic", "font": "Liberation Sans", "fontSize": 24, "color": "#262626"},
          "encoding": {"x": {"datum": 7.30, "type": "quantitative", "axis": null}, "y": {"datum": 12.57, "type": "quantitative", "axis": null}}
        },
        {
          "data": {"values": [{}]},
          "mark": {"type": "text", "text": "tree", "align": "left", "baseline": "alphabetic", "font": "Liberation Sans", "fontSize": 18, "color": "#262626"},
          "encoding": {"x": {"datum": 8.05, "type": "quantitative", "axis": null}, "y": {"datum": 11.94, "type": "quantitative", "axis": null}}
        }
      ]
    }
  ]
}
